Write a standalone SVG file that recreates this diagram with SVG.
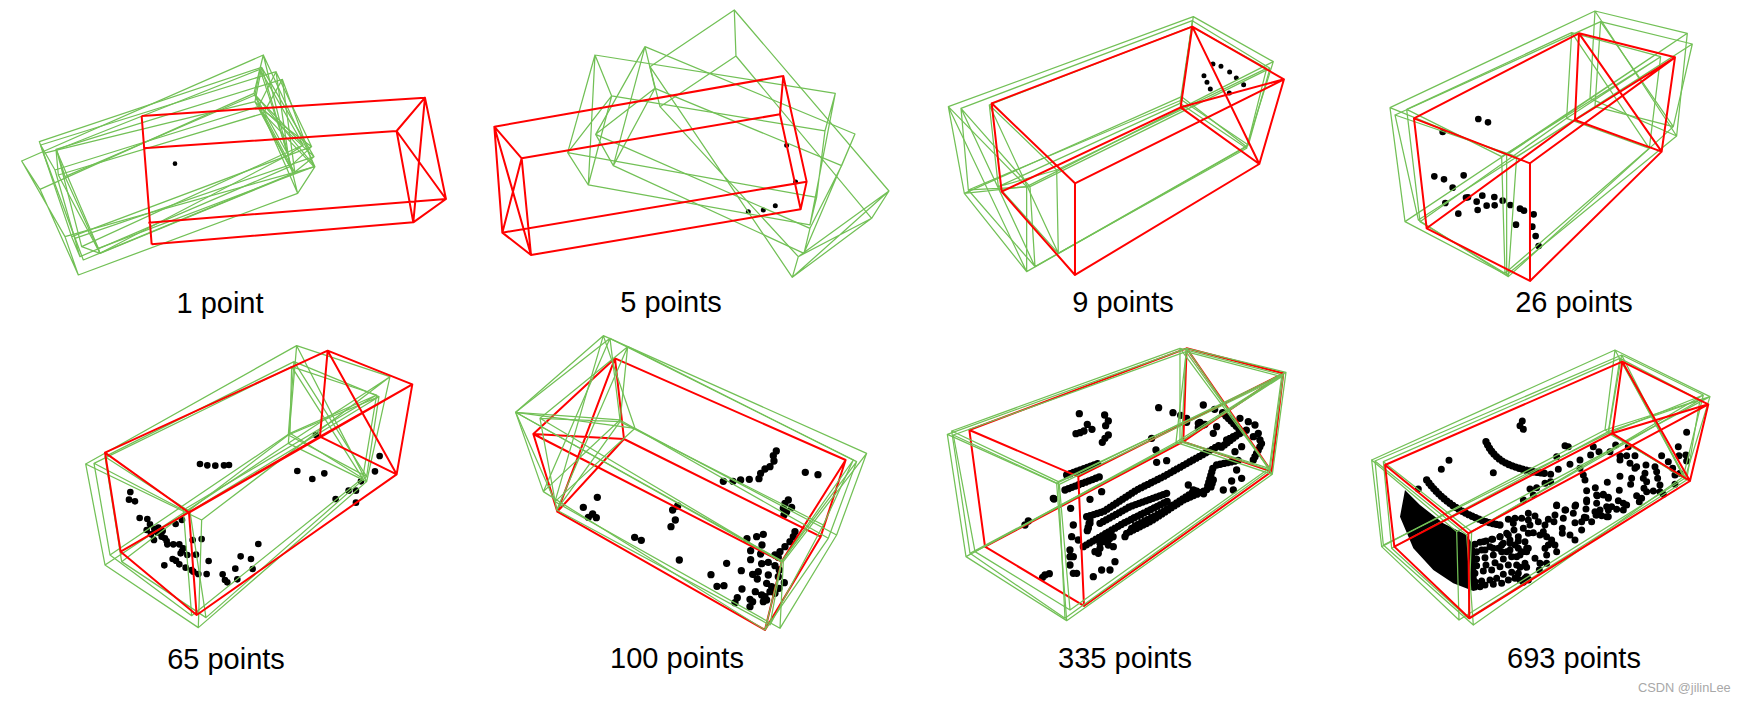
<svg xmlns="http://www.w3.org/2000/svg" width="1746" height="704" viewBox="0 0 1746 704">
<style>
  .box { fill: none; stroke-linejoin: round; vector-effect: non-scaling-stroke; }
  .gt { stroke: #72c056; stroke-width: 1.25; }
  .est { stroke: #ff0000; stroke-width: 2; }
  .pts { fill: none; stroke: #000; stroke-width: 20; stroke-linecap: round; }
  .run { fill: none; stroke: #000; stroke-width: 22; stroke-linecap: round; stroke-linejoin: round; stroke-dasharray: 0 11; }
  .mass { fill: #000; }
  .cap { font-family: "Liberation Sans", Arial, sans-serif; font-size: 29px; fill: #000; text-anchor: middle; }
  .mark { font-family: "Liberation Sans", Arial, sans-serif; font-size: 12.8px; fill: #a8a8a8; }
</style>
<rect width="1746" height="704" fill="#fff"/>

<!-- Each panel is drawn in a three-times enlarged local grid -->
<g id="panel-1" transform="translate(0 30) scale(0.3333)">
  <path class="pts" style="stroke-width:14" d="M525 401h0"/>
  <path class="box gt" d="M790 75L762 190L893 490L945 410ZM65 393L120 478L235 735L195 620ZM790 75L65 393M762 190L120 478M893 490L235 735M945 410L195 620M790 75L893 490M762 190L945 410"/>
  <path class="box gt" d="M785 112L765 215L880 430L942 380ZM118 335L130 370L250 690L225 625ZM785 112L118 335M765 215L130 370M880 430L250 690M942 380L225 625M785 112L880 430M765 215L942 380"/>
  <path class="box gt" d="M828 125L775 230L870 410L935 350ZM122 345L165 420L240 680L215 620ZM828 125L122 345M775 230L165 420M870 410L240 680M935 350L215 620M828 125L870 410M775 230L935 350"/>
  <path class="box gt" d="M847 148L790 250L885 430L942 410ZM168 358L175 435L300 670L295 655ZM847 148L168 358M790 250L175 435M885 430L300 670M942 410L295 655M847 148L885 430M790 250L942 410"/>
  <path class="box gt" d="M780 118L765 195L865 375L910 345ZM170 360L195 440L300 670L245 650ZM780 118L170 360M765 195L195 440M865 375L300 670M910 345L245 650M780 118L865 375M765 195L910 345"/>
  <path class="box est" d="M1275 203L1338 507L1240 577L1190 303ZM425 258L455 643M1275 203L425 258M1190 303L430 355M1240 577L455 643M1338 507L445 578M1275 203L1240 577M1190 303L1338 507"/>
</g>
<text class="cap" x="220" y="313">1 point</text>

<g id="panel-2" transform="translate(480 0) scale(0.3333)">
  <path class="pts" style="stroke-width:15" d="M920 436h0M947 546h0M805 635h0M850 630h0M886 617h0"/>
  <path class="box gt" d="M763 30L768 168L540 320L510 200ZM1227 573L1175 655L937 832L955 770ZM763 30L1227 573M768 168L1175 655M540 320L955 770M510 200L937 832M1227 573L937 832M1175 655L955 770"/>
  <path class="box gt" d="M495 140L525 265L400 497L347 403ZM1125 402L1085 497L990 685L972 760ZM495 140L1125 402M525 265L1085 497M400 497L972 760M347 403L990 685M495 140L400 497M525 265L347 403"/>
  <path class="box gt" d="M345 165L395 288L325 555L263 458ZM1066 280L1035 393L1010 592L990 675ZM345 165L1066 280M395 288L1035 393M325 555L990 675M263 458L1010 592M345 165L325 555M395 288L263 458"/>
  <path class="box est" d="M43 380L125 475L153 765L67 698ZM910 228L900 343L962 628L980 545ZM43 380L910 228M125 475L900 343M153 765L962 628M67 698L980 545M43 380L153 765M125 475L67 698"/>
</g>
<text class="cap" x="671" y="312">5 points</text>

<g id="panel-3" transform="translate(930 0) scale(0.3333)">
  <path class="pts" style="stroke-width:15" d="M849 192h0M873 199h0M899 216h0M919 234h0M941 254h0M822 227h0M831 247h0M841 267h0M898 279h0"/>
  <path class="box gt" d="M790 50L755 290L950 440L1030 185ZM55 320L103 580L290 815L290 560ZM790 50L55 320M755 290L103 580M950 440L290 815M1030 185L290 560M55 320L290 815M103 580L290 560"/>
  <path class="box gt" d="M787 62L755 300L955 435L1020 205ZM93 325L115 570L315 800L300 560ZM787 62L93 325M755 300L115 570M955 435L315 800M1020 205L300 560M93 325L315 800M115 570L300 560"/>
  <path class="box gt" d="M785 80L750 310L950 445L1010 205ZM178 315L205 560L385 760L380 510ZM785 80L178 315M750 310L205 560M950 445L385 760M1010 205L380 510M178 315L385 760M205 560L380 510"/>
  <path class="box est" d="M787 80L752 322L988 492L1062 238ZM185 310L215 575L435 825L435 550ZM787 80L185 310M752 322L215 575M988 492L435 825M1062 238L435 550M787 80L988 492M752 322L1062 238"/>
</g>
<text class="cap" x="1123" y="312">9 points</text>

<g id="panel-4" transform="translate(1370 0) scale(0.3333)">
  <path class="pts" d="M325 357h0M354 367h0M218 396h0M193 529h0M222 538h0M281 526h0M248 563h0M226 609h0M265 641h0M288 593h0M294 592h0M337 587h0M320 605h0M323 630h0M350 617h0M373 591h0M374 616h0M398 602h0M421 615h0M450 626h0M462 632h0M491 643h0M438 674h0M487 680h0M497 708h0M506 738h0"/>
  <path class="box gt" d="M675 33L660 295L920 408L952 100ZM60 323L105 665L410 825L410 465ZM675 33L60 323M660 295L105 665M920 408L410 825M952 100L410 465M675 33L920 408M660 295L952 100"/>
  <path class="box gt" d="M692 65L675 320L910 380L967 132ZM75 345L145 660L415 830L440 470ZM692 65L75 345M675 320L145 660M910 380L415 830M967 132L440 470M692 65L910 380M675 320L967 132"/>
  <path class="box gt" d="M605 98L590 355L838 445L872 170ZM110 328L150 665L405 820L395 470ZM605 98L110 328M590 355L150 665M838 445L405 820M872 170L395 470M605 98L838 445M590 355L872 170"/>
  <path class="box est" d="M627 100L615 360L875 455L915 172ZM132 355L170 685L480 843L480 490ZM627 100L132 355M615 360L170 685M875 455L480 843M915 172L480 490M627 100L875 455M615 360L915 172"/>
</g>
<text class="cap" x="1574" y="312">26 points</text>

<g id="panel-5" transform="translate(70 335) scale(0.3333)">
  <path class="pts" d="M390 387h0M412 391h0M436 392h0M462 391h0M477 390h0M181 471h0M177 494h0M195 499h0M209 549h0M232 552h0M240 568h0M230 585h0M243 598h0M253 582h0M265 578h0M278 588h0M275 605h0M252 615h0M285 610h0M292 628h0M310 628h0M328 628h0M340 640h0M332 655h0M352 660h0M378 659h0M368 615h0M395 612h0M416 678h0M283 691h0M308 672h0M328 688h0M347 698h0M365 705h0M370 710h0M385 717h0M410 717h0M458 718h0M465 735h0M472 742h0M502 733h0M496 701h0M512 664h0M543 672h0M548 702h0M565 627h0M317 567h0M336 555h0M738 300h0M682 408h0M727 432h0M763 415h0M797 492h0M836 467h0M858 467h0M858 503h0M873 439h0M915 409h0M929 363h0M262 592h0M290 618h0M336 648h0M318 677h0"/>
  <path class="box gt" d="M680 32L655 325L890 440L960 125ZM47 387L105 690L385 878L395 555ZM680 32L47 387M655 325L105 690M890 440L385 878M960 125L395 555M680 32L890 440M655 325L960 125"/>
  <path class="box gt" d="M665 95L660 295L878 430L920 180ZM72 385L120 660L365 842L340 525ZM665 95L72 385M660 295L120 660M878 430L365 842M920 180L340 525M665 95L878 430M660 295L920 180"/>
  <path class="box gt" d="M672 80L655 300L890 425L927 185ZM105 365L155 680L408 848L360 530ZM672 80L105 365M655 300L155 680M890 425L408 848M927 185L360 530M672 80L890 425M655 300L927 185"/>
  <path class="box est" d="M773 47L750 305L980 418L1027 148ZM105 353L152 650L380 840L357 533ZM773 47L105 353M750 305L152 650M980 418L380 840M1027 148L357 533M773 47L980 418M750 305L1027 148"/>
</g>
<text class="cap" x="226" y="669">65 points</text>

<g id="panel-6" transform="translate(500 325) scale(0.3333)">
  <path class="pts" style="stroke-width:22" d="M829 378h0M820 392h0M822 408h0M810 425h0M795 432h0M782 445h0M777 461h0M748 463h0M722 465h0M699 469h0M670 469h0M916 442h0M954 449h0M865 525h0M855 535h0M875 547h0M850 550h0M860 560h0M852 570h0M292 517h0M250 547h0M278 567h0M265 577h0M289 578h0M533 543h0M518 555h0M526 585h0M513 605h0M404 637h0M424 646h0M538 705h0M885 620h0M880 635h0M870 650h0M855 665h0M840 680h0M825 690h0M835 697h0M790 628h0M770 635h0M741 641h0M786 660h0M752 677h0M782 687h0M752 704h0M785 716h0M805 712h0M825 722h0M838 735h0M680 715h0M724 737h0M633 749h0M651 784h0M672 782h0M712 818h0M705 833h0M750 823h0M758 830h0M750 845h0M726 792h0M766 800h0M800 775h0M758 748h0M775 740h0M772 762h0M805 750h0M835 755h0M853 773h0M837 790h0M810 800h0M795 815h0M790 830h0M785 810h0M800 825h0M825 805h0M815 785h0"/>
  <path class="box est" d="M345 100L372 342L172 560L100 327ZM1037 405L962 635L795 915L845 710ZM345 100L1037 405M372 342L962 635M172 560L795 915M100 327L845 710M345 100L172 560M372 342L100 327"/>
  <path class="box gt" d="M310 32L405 310L165 530L47 262ZM1100 385L1010 630L840 910L850 710ZM310 32L1100 385M405 310L1010 630M165 530L840 910M47 262L850 710M310 32L165 530M405 310L47 262"/>
  <path class="box gt" d="M330 40L360 285L130 500L47 262ZM1070 410L985 640L795 915L845 710ZM330 40L1070 410M360 285L985 640M130 500L795 915M47 262L845 710M330 40L130 500M360 285L47 262"/>
  <path class="box gt" d="M383 65L360 290L170 555L120 280ZM1060 405L970 600L810 900L845 710ZM383 65L1060 405M360 290L970 600M170 555L810 900M120 280L845 710M383 65L170 555M360 290L120 280"/>
</g>
<text class="cap" x="677" y="668">100 points</text>

<g id="panel-7" transform="translate(930 335) scale(0.3333)">
  <path class="pts" style="stroke-width:22" d="M448 236h0M524 240h0M535 258h0M527 272h0M472 268h0M486 283h0M462 288h0M450 293h0M438 296h0M535 300h0M525 310h0M517 322h0M686 218h0M729 233h0M752 241h0M770 250h0M770 262h0M820 210h0M854 223h0M878 233h0M810 262h0M825 268h0M805 278h0M372 492h0M345 720h0M338 727h0M358 716h0M285 570h0M295 558h0"/>
  <!-- dense central part, local origin moved to the cluster -->
  <g transform="translate(360 195)">
    <path class="pts" style="stroke-width:22" d="M62 325h0M120 298h0M155 275h0M320 187h0M350 182h0M318 150h0M305 115h0M70 375h0M65 410h0M120 370h0M115 385h0M60 450h0M70 470h0M60 495h0M70 520h0M145 460h0M135 455h0M160 420h0M190 440h0M195 485h0M130 530h0M155 510h0M180 510h0M10 295h0M225 410h0M415 255h0M520 270h0M550 270h0M575 235h0M545 243h0M555 155h0M575 140h0M500 80h0M490 100h0M445 70h0M460 75h0M595 65h0M570 55h0M615 75h0M625 100h0M630 120h0M610 110h0M560 210h0M80 520h0M85 420h0M170 400h0M150 445h0M175 435h0M60 470h0"/>
    <path class="run" d="M110 350L160 335L260 270L340 230L420 185L510 135M150 370L240 320L350 280M100 440L220 370L300 330L360 300M230 400L300 365L400 300L470 270L490 200M245 385L330 345L420 285M255 378L340 335L440 270M45 270L150 230M50 225L145 190M500 195L570 180M530 120L590 90M520 40L575 95L510 145M610 180L635 130M120 360L110 400M150 430L190 410M430 270L470 285M490 240L480 270"/>
  </g>
  <path class="box est" d="M770 40L760 320L1025 410L1060 115ZM118 285L165 635L462 813L445 425ZM770 40L118 285M760 320L165 635M1025 410L462 813M1060 115L445 425M770 40L1025 410M760 320L1060 115"/>
  <path class="box gt" d="M770 40L738 322L1027 418L1068 112ZM52 298L108 665L410 857L380 445ZM770 40L52 298M738 322L108 665M1027 418L410 857M1068 112L380 445M770 40L1027 418M738 322L1068 112"/>
  <path class="box gt" d="M750 40L750 320L1020 405L1060 120ZM65 288L120 655L405 850L385 440ZM750 40L65 288M750 320L120 655M1020 405L405 850M1060 120L385 440M750 40L1020 405M750 320L1060 120"/>
  <path class="box gt" d="M768 50L755 318L1018 400L1055 125ZM70 300L135 650L420 825L388 448ZM768 50L70 300M755 318L135 650M1018 400L420 825M1055 125L388 448M768 50L1018 400M755 318L1055 125"/>
</g>
<text class="cap" x="1125" y="668">335 points</text>

<g id="panel-8" transform="translate(1360 335) scale(0.3333)">
  <path class="mass" d="M135 465L180 510L250 565L320 600L345 640L352 765L340 768L280 745L220 705L160 640L120 545Z"/>
  <path class="pts" style="stroke-width:21" d="M487 258h0M480 272h0M490 283h0M267 376h0M244 403h0M400 413h0M175 462h0M615 332h0M625 335h0M590 365h0M700 335h0M717 350h0M692 360h0M750 350h0M767 330h0M805 335h0M780 362h0M800 362h0M825 362h0M780 375h0M810 385h0M825 400h0M858 390h0M830 395h0M885 395h0M905 362h0M925 380h0M938 400h0M955 335h0M980 292h0M957 362h0M978 360h0M980 378h0M960 415h0M945 420h0M945 448h0M890 410h0M893 430h0M900 450h0M855 415h0M850 430h0M860 440h0M852 460h0M860 470h0M880 468h0M900 470h0M910 478h0M815 430h0M812 448h0M780 424h0M742 442h0M630 388h0M660 375h0M660 400h0M670 420h0M675 435h0M595 403h0M572 418h0M572 440h0M555 445h0M530 458h0M510 462h0M520 480h0M490 495h0M680 467h0M706 458h0M778 466h0M730 478h0M745 487h0M712 482h0M680 500h0M710 505h0M678 522h0M645 514h0M590 512h0M615 525h0M740 515h0M745 525h0M770 523h0M775 497h0M790 505h0M800 510h0M830 482h0M845 490h0M838 500h0M790 525h0M745 545h0M725 542h0M708 540h0M705 530h0M678 548h0M665 560h0M345 628h0M370 620h0M395 613h0M420 605h0M445 600h0M350 650h0M375 645h0M400 640h0M425 630h0M450 625h0M475 618h0M350 672h0M375 668h0M400 660h0M425 650h0M450 645h0M475 640h0M500 640h0M350 692h0M378 690h0M405 683h0M430 672h0M455 665h0M480 660h0M345 715h0M370 708h0M395 705h0M420 695h0M445 690h0M470 690h0M495 685h0M345 740h0M365 738h0M390 735h0M410 730h0M430 718h0M455 712h0M475 715h0M500 725h0M480 735h0M490 742h0M505 735h0M360 755h0M375 750h0M400 748h0M425 745h0M445 735h0M465 730h0"/>
  <!-- upper-field points, local origin moved to the field -->
  <g transform="translate(120 435)">
    <path class="pts" style="stroke-width:21" d="M470 75h0M497 90h0M527 75h0M520 100h0M490 115h0M465 105h0M445 118h0M462 125h0M525 128h0M553 112h0M575 125h0M545 150h0M510 165h0M525 180h0M487 145h0M487 160h0M405 108h0M385 100h0M385 120h0M365 115h0M345 115h0M325 118h0M340 130h0M370 145h0M390 135h0M415 125h0M435 135h0M430 155h0M420 165h0M400 158h0M385 160h0M342 150h0M320 160h0M300 170h0M278 178h0M258 183h0M240 187h0M355 170h0M330 180h0M375 185h0M385 205h0M365 215h0M345 195h0M310 190h0M295 205h0M270 200h0M245 210h0M320 215h0M350 230h0M380 215h0M440 170h0M455 180h0M445 195h0M465 195h0M470 215h0M435 205h0M440 225h0M405 235h0M440 250h0M420 250h0M418 270h0M380 262h0M360 262h0M375 295h0M385 298h0M590 45h0M560 60h0M610 45h0M625 55h0M590 105h0M620 110h0M600 90h0M635 80h0"/>
  </g>
  <path class="run" d="M378 320Q400 370 450 390T555 415M200 435Q240 490 300 525T420 570"/>
  <path class="box gt" d="M765 45L735 285L975 430L1050 185ZM35 375L65 635L297 855L290 590ZM765 45L35 375M735 285L65 635M975 430L297 855M1050 185L290 590M765 45L975 430M735 285L1050 185"/>
  <path class="box gt" d="M785 60L745 295L970 425L1030 180ZM45 378L70 630L340 870L320 600ZM785 60L45 378M745 295L70 630M970 425L340 870M1030 180L320 600M785 60L970 425M745 295L1030 180"/>
  <path class="box gt" d="M780 70L745 290L980 435L1020 195ZM70 380L95 640L325 850L335 590ZM780 70L70 380M745 290L95 640M980 435L325 850M1020 195L335 590M780 70L980 435M745 290L1020 195"/>
  <path class="box est" d="M787 80L757 295L990 438L1045 208ZM75 390L103 635L328 850L325 595ZM787 80L75 390M757 295L103 635M990 438L328 850M1045 208L325 595M787 80L990 438M757 295L1045 208"/>
</g>
<text class="cap" x="1574" y="668">693 points</text>

<text class="mark" x="1638" y="692">CSDN @jilinLee</text>
</svg>
